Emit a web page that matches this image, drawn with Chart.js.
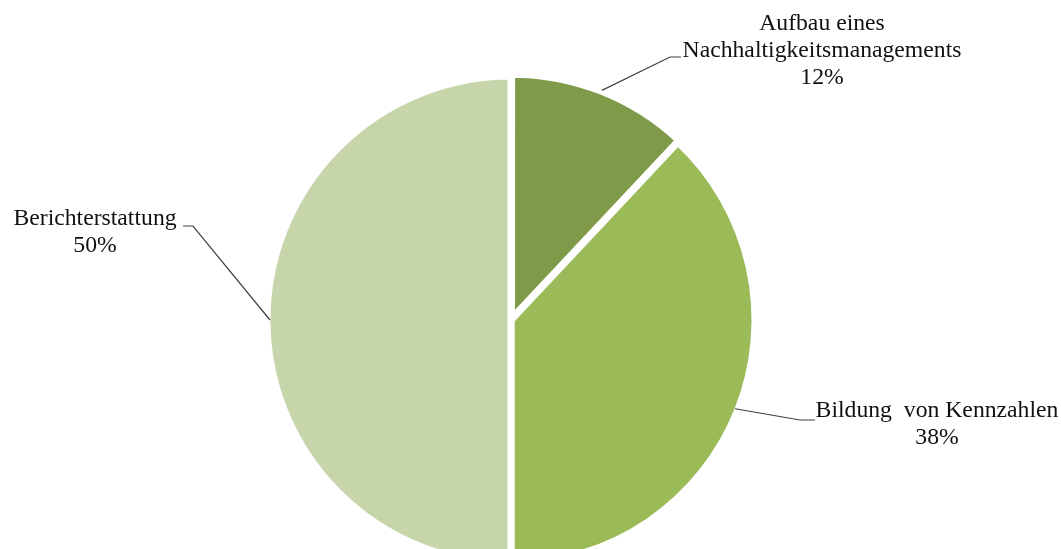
<!DOCTYPE html>
<html>
<head>
<meta charset="utf-8">
<script src="https://cdn.jsdelivr.net/npm/chart.js@4/dist/chart.umd.min.js"></script>
<style>
    html, body { margin: 0; padding: 0; background: #fff; overflow: hidden; }
    #wrap { width: 1061px; height: 640px; }
</style>
</head>
<body>
<div id="wrap"><canvas id="pie"></canvas></div>
<script>
// DATA
const categories = [
    ['Aufbau eines', 'Nachhaltigkeitsmanagements'],
    ['Bildung  von Kennzahlen'],
    ['Berichterstattung']
];
const shares = [12, 38, 50];
const sliceColors = ['#7f9a48', '#9bbb59', '#c6d5aa'];

// label placement: text centre x, first baseline y, elbow of leader line, end of leader line
const labelLayout = [
    { x: 822, y: 30, elbow: [670, 57], end: [681, 57] },
    { x: 937, y: 417, elbow: [800, 420], end: [815, 420] },
    { x: 95, y: 225, elbow: [193, 226], end: [183, 226] }
];

const LINE_H = 27;
const TEXT_STRETCH = 1.03; // the labels are set slightly wide

const calloutPlugin = {
    id: 'callouts',
    afterDraw(chart) {
        const ctx = chart.ctx;
        const arcs = chart.getDatasetMeta(0).data;
        ctx.save();
        arcs.forEach((arc, i) => {
            const p = arc.getProps(['x', 'y', 'startAngle', 'endAngle', 'outerRadius'], true);
            const mid = (p.startAngle + p.endAngle) / 2;
            const off = arc.options.offset || 0;
            const r = p.outerRadius - 3 + off;
            const sx = p.x + Math.cos(mid) * r;
            const sy = p.y + Math.sin(mid) * r;
            const lay = labelLayout[i];

            ctx.strokeStyle = '#404040';
            ctx.lineWidth = 1.2;
            ctx.beginPath();
            ctx.moveTo(sx, sy);
            ctx.lineTo(lay.elbow[0], lay.elbow[1]);
            ctx.lineTo(lay.end[0], lay.end[1]);
            ctx.stroke();

            ctx.save();
            ctx.translate(lay.x, lay.y);
            ctx.scale(TEXT_STRETCH, 1);
            ctx.fillStyle = '#111';
            ctx.font = '23px "Liberation Serif", "Times New Roman", serif';
            ctx.textAlign = 'center';
            ctx.textBaseline = 'alphabetic';
            const lines = categories[i].concat([shares[i] + '%']);
            lines.forEach((t, k) => ctx.fillText(t, 0, k * LINE_H));
            ctx.restore();
        });
        ctx.restore();
    }
};

new Chart(document.getElementById('pie'), {
    type: 'pie',
    data: {
        labels: categories.map(c => c.join(' ')),
        datasets: [{
            data: shares,
            backgroundColor: sliceColors,
            borderColor: '#ffffff',
            borderWidth: 7,
            offset: [6, 0, 0]
        }]
    },
    options: {
        responsive: true,
        maintainAspectRatio: false,
        animation: false,
        radius: 244,
        layout: { padding: { left: 0, right: 39, top: 0, bottom: 0 } },
        plugins: {
            legend: { display: false },
            tooltip: { enabled: false }
        }
    },
    plugins: [calloutPlugin]
});
</script>
</body>
</html>
